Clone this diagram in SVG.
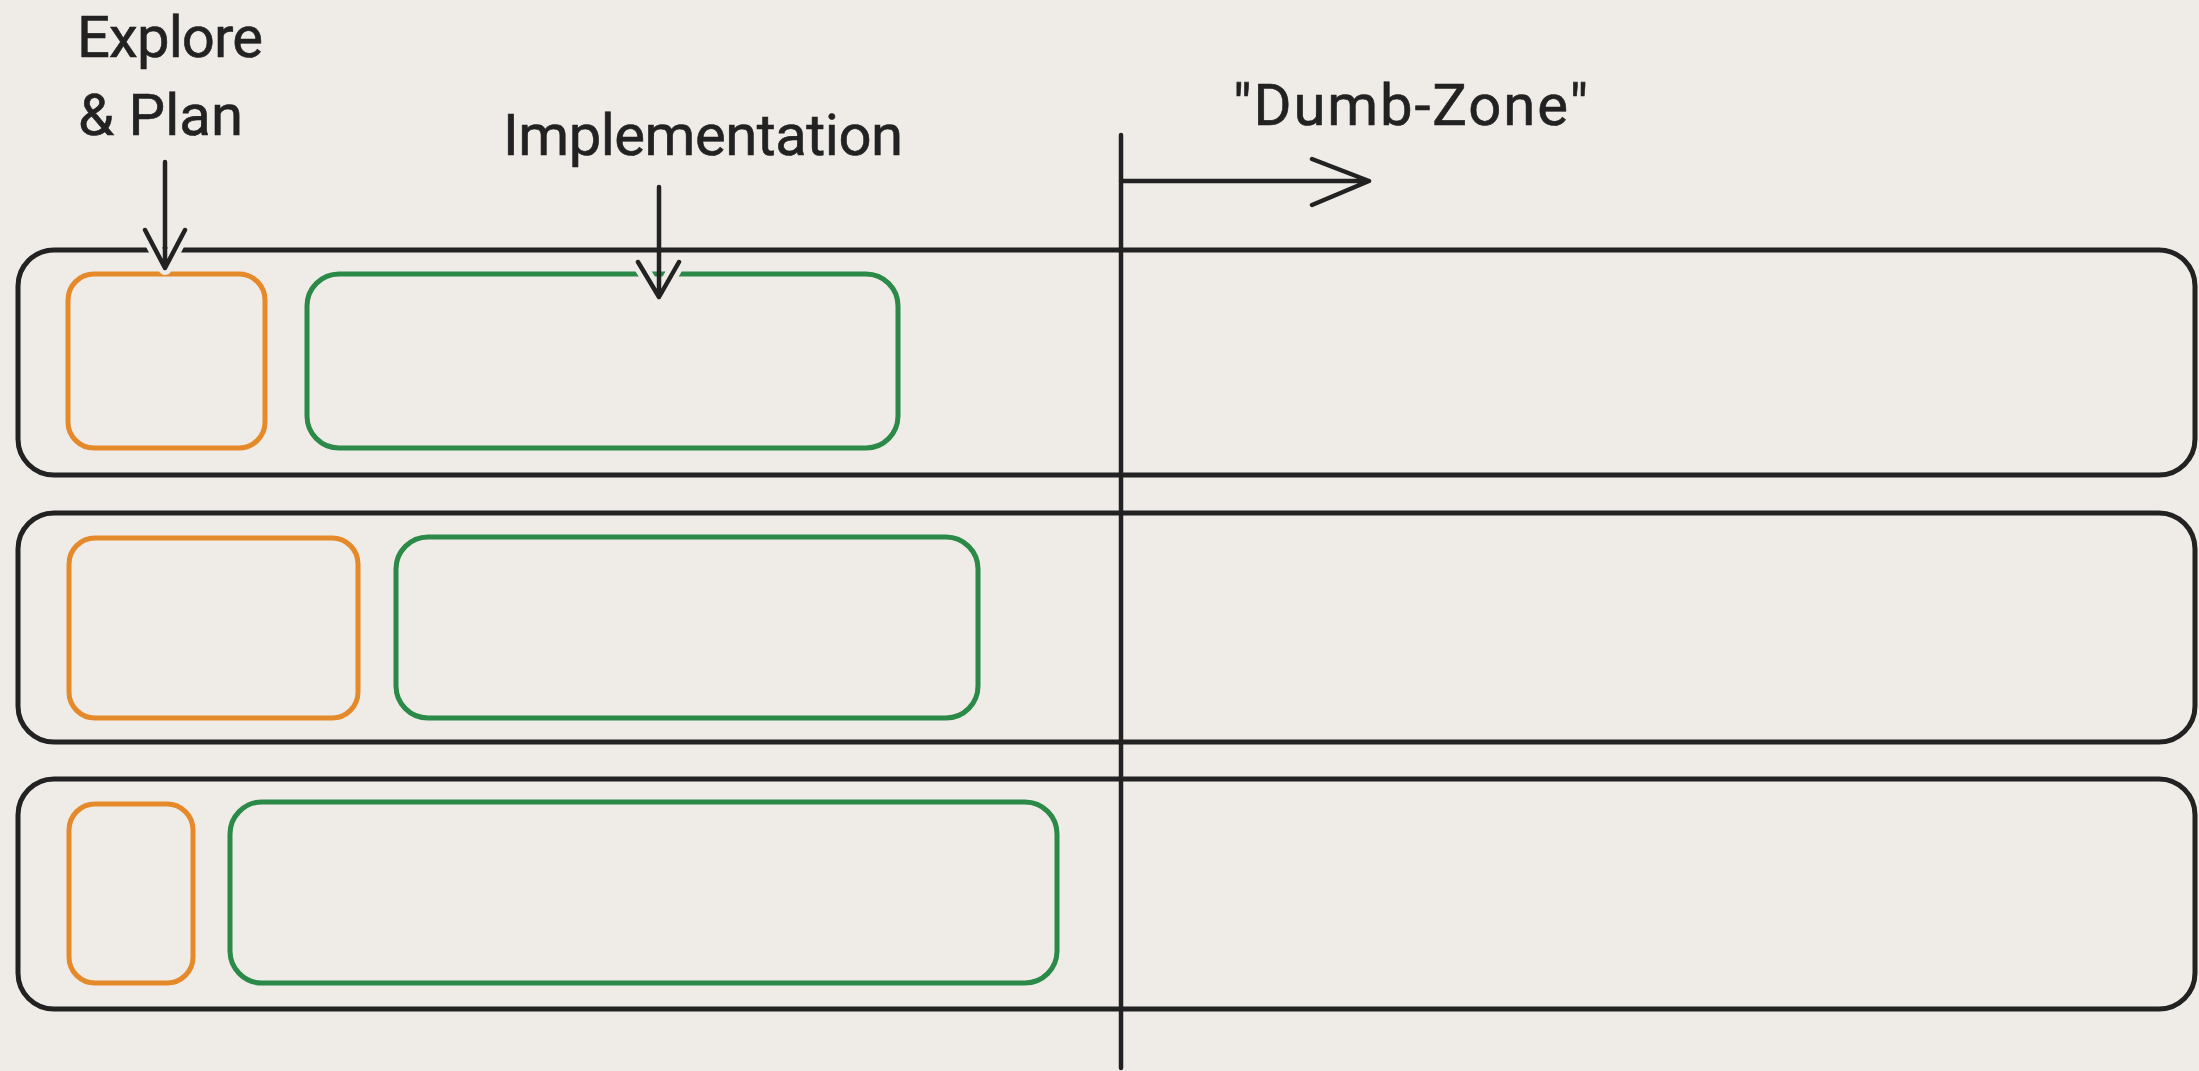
<svg xmlns="http://www.w3.org/2000/svg" width="2199" height="1071" viewBox="0 0 2199 1071">
  <defs>
    <style>
      .bg { fill: #efebe7; }
      .row { fill: none; stroke: #222222; stroke-width: 5; }
      .plan { fill: none; stroke: #e58a2a; stroke-width: 5; }
      .impl { fill: none; stroke: #2b8a48; stroke-width: 5; }
      .line { fill: none; stroke: #222222; stroke-width: 4.5; stroke-linecap: round; stroke-linejoin: round; }
      .halo { fill: none; stroke: #efebe7; stroke-width: 14; stroke-linecap: round; stroke-linejoin: round; }
      .label { font-family: Roboto, "Liberation Sans", Arial, sans-serif; font-size: 58px; fill: #222222; stroke: #222222; stroke-width: 0.6; }
    </style>
  </defs>
  <rect class="bg" x="0" y="0" width="2199" height="1071"/>

  <g id="row1">
    <rect class="row" x="18" y="250" width="2177" height="225" rx="36" ry="36"/>
    <rect id="row1-plan" class="plan" x="68" y="274" width="197" height="174" rx="26" ry="26"/>
    <rect id="row1-impl" class="impl" x="307" y="274" width="591" height="174" rx="32" ry="32"/>
  </g>
  <g id="row2">
    <rect class="row" x="18" y="513" width="2177" height="229" rx="36" ry="36"/>
    <rect id="row2-plan" class="plan" x="69" y="538" width="289" height="180" rx="26" ry="26"/>
    <rect id="row2-impl" class="impl" x="396" y="537" width="582" height="181" rx="32" ry="32"/>
  </g>
  <g id="row3">
    <rect class="row" x="18" y="779" width="2177" height="230" rx="36" ry="36"/>
    <rect id="row3-plan" class="plan" x="69" y="804" width="124" height="179" rx="26" ry="26"/>
    <rect id="row3-impl" class="impl" x="230" y="802" width="827" height="181" rx="32" ry="32"/>
  </g>

  <g id="label-explore">
    <text class="label" x="77" y="57" textLength="186" lengthAdjust="spacing">Explore</text>
    <text class="label" x="78" y="135" textLength="165" lengthAdjust="spacing">&amp; Plan</text>
  </g>
  <g id="label-implementation">
    <text class="label" x="503" y="155" textLength="400" lengthAdjust="spacing">Implementation</text>
  </g>
  <g id="label-dumbzone">
    <text class="label" x="1233" y="125" textLength="355" lengthAdjust="spacing">"Dumb-Zone"</text>
  </g>

  <g id="connectors">
    <g id="arrow-explore">
      <path class="halo" d="M145 230 L165 268 L185 230"/>
      <path class="line" d="M165 162 L165 268 M145 230 L165 268 L185 230"/>
    </g>
    <g id="arrow-implementation">
      <path class="halo" d="M638 262 L659 297 L679 262"/>
      <path class="line" d="M659 187 L659 297 M638 262 L659 297 L679 262"/>
    </g>
    <g id="dumb-zone-divider">
      <path class="line" d="M1121 135 L1121 1068"/>
      <path class="line" d="M1121 181 L1369 181 M1312 159 L1369 181 L1312 205"/>
    </g>
  </g>
</svg>
